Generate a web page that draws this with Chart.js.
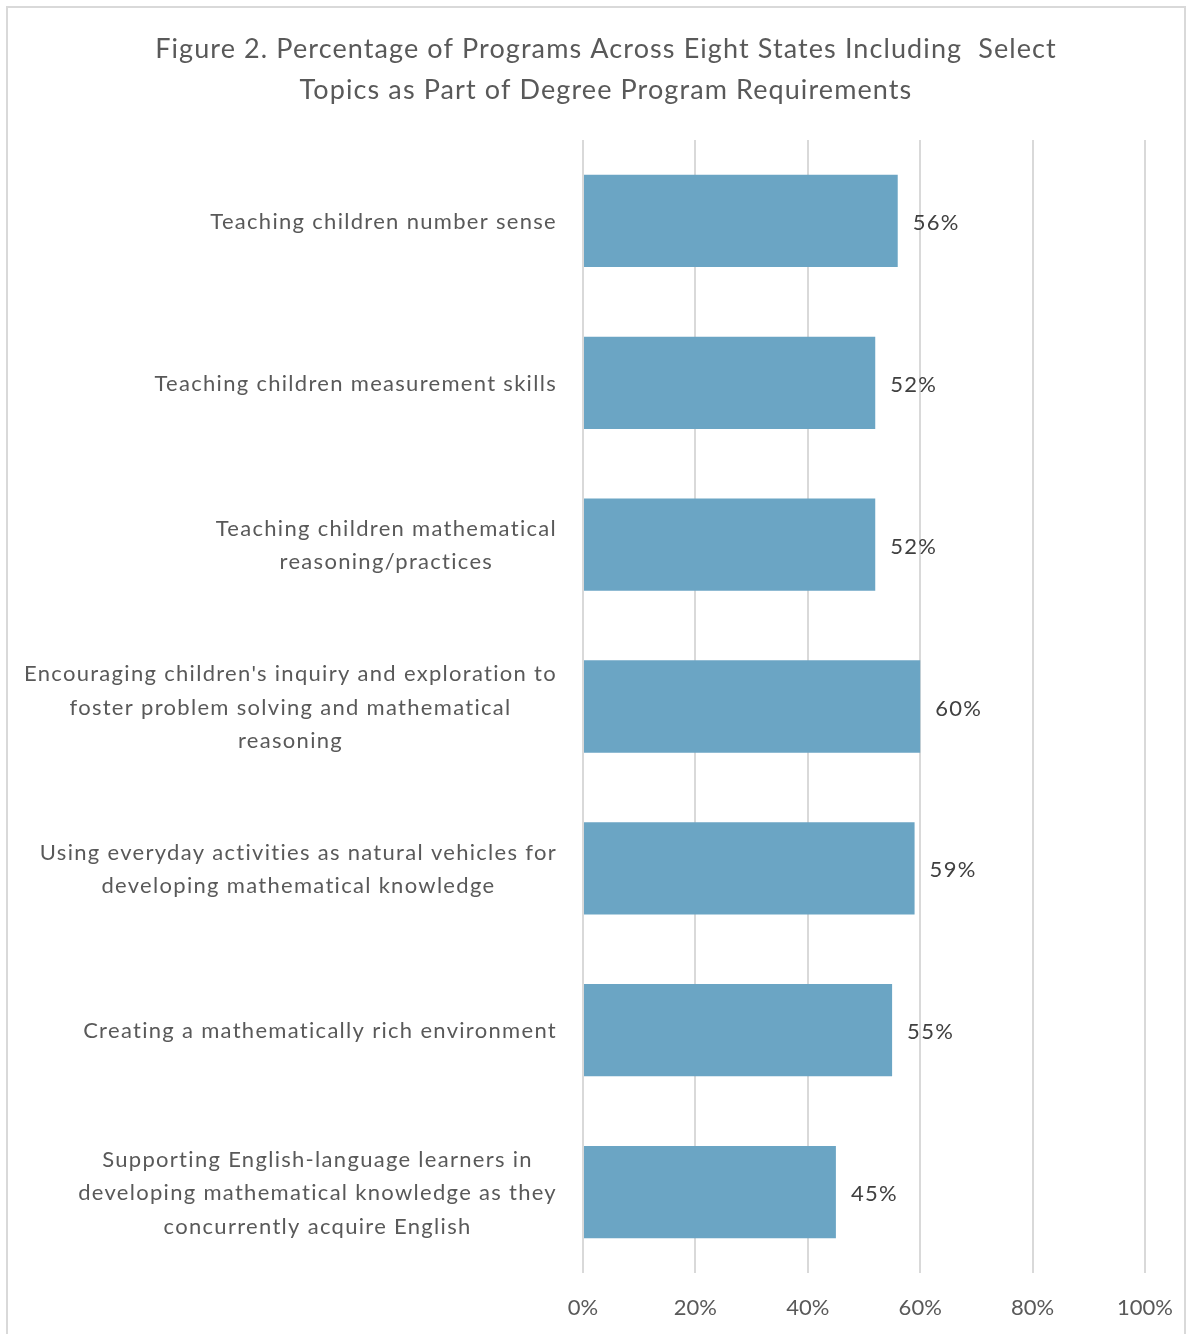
<!DOCTYPE html>
<html>
<head>
<meta charset="utf-8">
<script src="https://cdn.jsdelivr.net/npm/chart.js@4"></script>
<style>
  html, body { margin: 0; padding: 0; background: #fff; }
  #wrap { position: relative; width: 1196px; height: 1334px; }
  #frame { position: absolute; left: 6px; top: 6px; width: 1180px; height: 1340px; border: 2px solid #d9d9d9; box-sizing: border-box; }
  canvas { position: absolute; left: 0; top: 0; }
</style>
</head>
<body>
<div id="wrap">
  <div id="frame"></div>
  <canvas id="chart" width="1196" height="1334"></canvas>
</div>
<script>
const topics = [
    'Teaching children number sense',
    'Teaching children measurement skills',
    ['Teaching children mathematical', 'reasoning/practices'],
    ['Encouraging children\'s inquiry and exploration to', 'foster problem solving and mathematical', 'reasoning'],
    ['Using everyday activities as natural vehicles for', 'developing mathematical knowledge'],
    'Creating a mathematically rich environment',
    ['Supporting English-language learners in', 'developing mathematical knowledge as they', 'concurrently acquire English']
];
const percents = [56, 52, 52, 60, 59, 55, 45];
const titleLines = [
    'Figure 2. Percentage of Programs Across Eight States Including  Select',
    'Topics as Part of Degree Program Requirements'
];

const fontFamily = 'Lato, "Open Sans", sans-serif';
const textColor = '#595959';

// title, category labels (lines centred within each block) and value labels
const textLayer = {
    id: 'textLayer',
    afterDraw(chart) {
        const ctx = chart.ctx;
        const yScale = chart.scales.y;
        ctx.save();
        ctx.textBaseline = 'middle';

        // title
        ctx.font = '27px ' + fontFamily;
        ctx.letterSpacing = '1.1px';
        ctx.fillStyle = textColor;
        ctx.textAlign = 'center';
        titleLines.forEach(function (line, i) {
            ctx.fillText(line, 606, 49 + i * 41);
        });

        // category labels
        ctx.font = '22px ' + fontFamily;
        ctx.letterSpacing = '1.3px';
        const rightEdge = chart.chartArea.left - 26;
        topics.forEach(function (label, i) {
            const lines = Array.isArray(label) ? label : [label];
            const widest = Math.max.apply(null, lines.map(function (l) { return ctx.measureText(l).width; }));
            const cx = rightEdge - widest / 2;
            const cy = yScale.getPixelForTick(i);
            const lh = 33.5;
            lines.forEach(function (l, j) {
                ctx.fillText(l, cx, cy + (j - (lines.length - 1) / 2) * lh + 1);
            });
        });

        // value labels
        ctx.fillStyle = '#404040';
        ctx.textAlign = 'left';
        const meta = chart.getDatasetMeta(0);
        meta.data.forEach(function (bar, i) {
            ctx.fillText(percents[i] + '%', bar.x + 15, bar.y + 2);
        });
        ctx.restore();
    }
};

const ctx = document.getElementById('chart').getContext('2d');
const chart = new Chart(ctx, {
    type: 'bar',
    data: {
        labels: topics,
        datasets: [{
            data: percents,
            backgroundColor: '#6ba5c4',
            borderWidth: 0,
            barPercentage: 0.57,
            categoryPercentage: 1
        }]
    },
    options: {
        indexAxis: 'y',
        responsive: false,
        animation: false,
        layout: {
            padding: { left: 63, right: 51, top: 140, bottom: 0 }
        },
        plugins: {
            legend: { display: false },
            tooltip: { enabled: false },
            title: { display: false }
        },
        scales: {
            x: {
                min: 0,
                max: 100,
                ticks: {
                    stepSize: 20,
                    padding: 22,
                    color: textColor,
                    font: { family: fontFamily, size: 22 },
                    callback: function (v) { return v + '%'; }
                },
                grid: { color: '#d9d9d9', lineWidth: 2, drawTicks: false },
                border: { display: false },
                afterFit: function (scale) { scale.height = 61; }
            },
            y: {
                ticks: { display: false },
                grid: { display: false, drawTicks: false },
                border: { display: false },
                afterFit: function (scale) { scale.width = 520; }
            }
        }
    },
    plugins: [textLayer]
});
</script>
</body>
</html>
